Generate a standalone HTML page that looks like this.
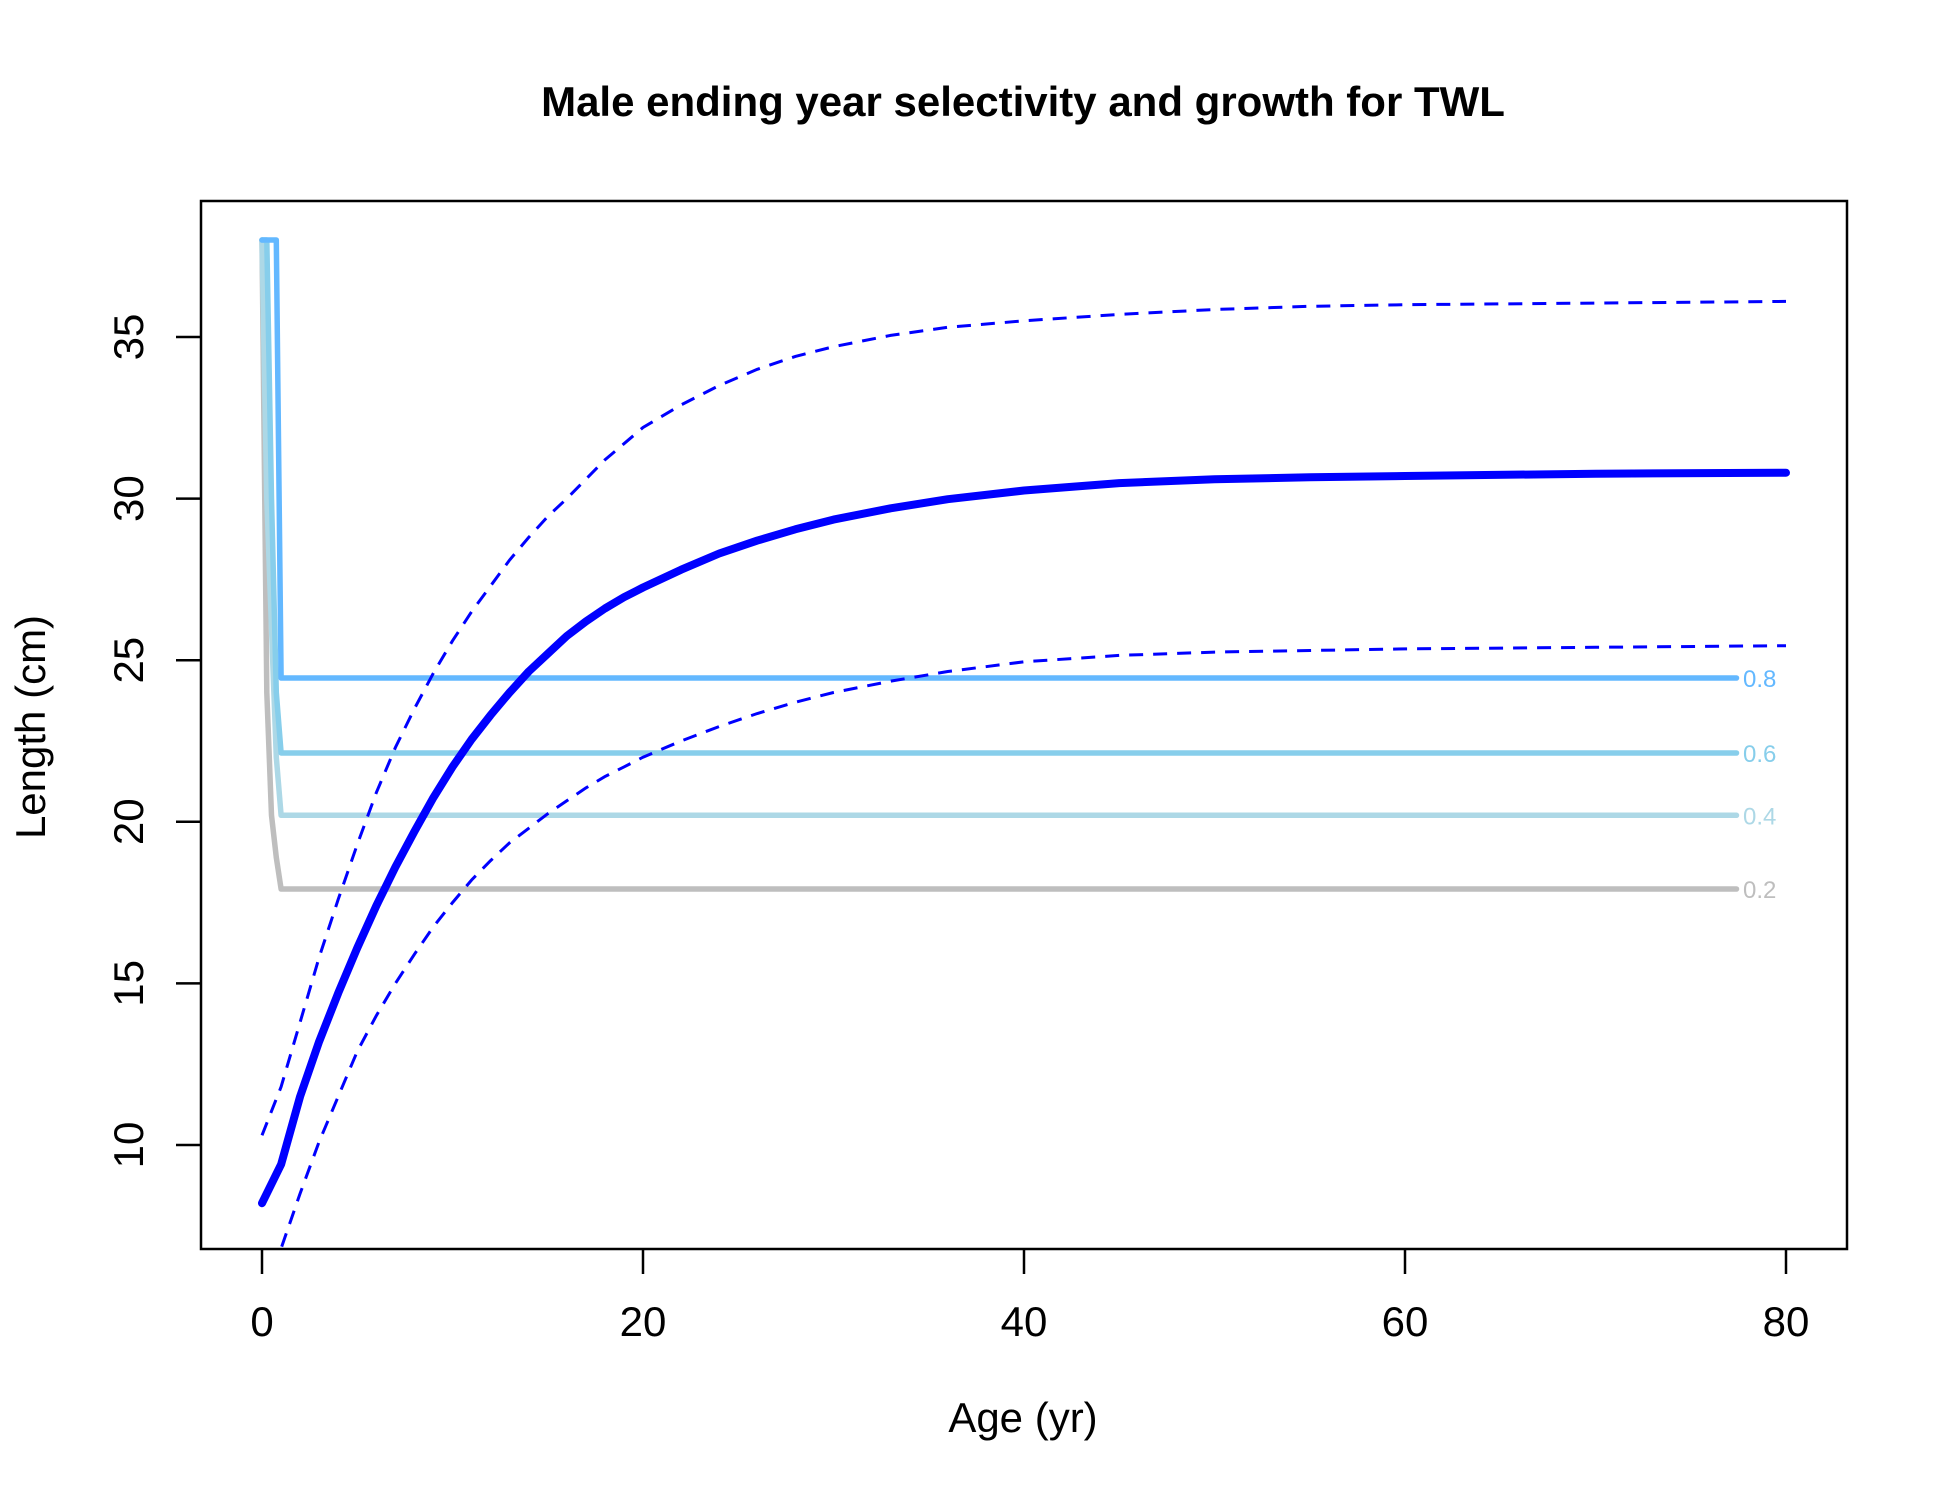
<!DOCTYPE html>
<html><head><meta charset="utf-8"><style>
html,body{margin:0;padding:0;background:#fff;}
svg{display:block;font-family:"Liberation Sans",Arial,sans-serif;}
</style></head><body>
<svg id="chart" width="1950" height="1500" viewBox="0 0 1950 1500">
<defs><clipPath id="plotclip"><rect x="201" y="201" width="1646" height="1048"/></clipPath></defs>
<text x="1023" y="116" text-anchor="middle" font-size="42" font-weight="bold">Male ending year selectivity and growth for TWL</text>
<g id="marks" clip-path="url(#plotclip)"></g>
<rect x="201" y="201" width="1646" height="1048" fill="none" stroke="#000" stroke-width="2.5"/>
<g id="axes"></g>
<text x="1023" y="1432" text-anchor="middle" font-size="42">Age (yr)</text>
<text transform="translate(45,727) rotate(-90)" text-anchor="middle" font-size="42">Length (cm)</text>
</svg>
<script>
const xTicks = [0, 20, 40, 60, 80];
const yTicks = [10, 15, 20, 25, 30, 35];
const growthAges = [0,1,2,3,4,5,6,7,8,9,10,11,12,13,14,15,16,17,18,19,20,22,24,26,28,30,33,36,40,45,50,55,60,70,80];
const meanLen = [8.2,9.4,11.5,13.2,14.7,16.1,17.4,18.6,19.7,20.75,21.7,22.55,23.3,24.0,24.65,25.2,25.75,26.2,26.6,26.95,27.25,27.8,28.3,28.7,29.05,29.35,29.7,29.98,30.25,30.48,30.6,30.66,30.7,30.77,30.8];
const upperLen = [10.3,11.8,13.8,15.8,17.6,19.3,20.9,22.3,23.5,24.6,25.6,26.5,27.3,28.1,28.8,29.45,30.0,30.6,31.2,31.7,32.2,32.9,33.5,34.0,34.4,34.7,35.05,35.3,35.5,35.7,35.85,35.95,36.0,36.05,36.1];
const lowerLen = [5.5,6.8,8.5,10.1,11.5,12.9,14.0,15.0,15.9,16.75,17.5,18.2,18.8,19.35,19.8,20.25,20.65,21.05,21.4,21.7,22.0,22.5,22.95,23.35,23.7,24.0,24.35,24.65,24.95,25.15,25.25,25.3,25.35,25.4,25.45];
const selProbs = [0.2, 0.4, 0.6, 0.8];
const selColors = ["#bebebe", "#add8e6", "#87ceeb", "#63b8ff"];
const selAges = [0, 0.25, 0.5, 0.75, 1, 77.4];
const selLens = [
  [38, 24.0, 20.2, 18.9, 17.92, 17.92],
  [38, 30.0, 26.0, 22.0, 20.2, 20.2],
  [38, 38.0, 30.0, 24.0, 22.13, 22.13],
  [38, 38.0, 38.0, 38.0, 24.45, 24.45]
];
const NS = "http://www.w3.org/2000/svg";
const sx = a => 262 + a * (1786 - 262) / 80;
const sy = v => 1145 - (v - 10) * 32.32;
const marks = document.getElementById("marks");
const axes = document.getElementById("axes");
function mk(tag, attrs, parent){const e=document.createElementNS(NS,tag);for(const k in attrs)e.setAttribute(k,attrs[k]);parent.appendChild(e);return e;}
function pts(xs, ys){return xs.map((a,i)=>sx(a).toFixed(1)+","+sy(ys[i]).toFixed(1)).join(" ");}
selProbs.forEach((p,i)=>{
  const l = mk("polyline",{points:pts(selAges, selLens[i]),fill:"none",stroke:selColors[i],"stroke-width":5.5,"stroke-linejoin":"round","stroke-linecap":"round"},marks);
  
  
  const t = mk("text",{x:1743,y:sy(selLens[i][5])+9,"font-size":24,fill:selColors[i]},document.getElementById("chart"));
  t.textContent = p.toFixed(1);
  
  
});
const up = mk("polyline",{points:pts(growthAges, upperLen),fill:"none",stroke:"#0000ff","stroke-width":3,"stroke-dasharray":"14 10"},marks);


const lo = mk("polyline",{points:pts(growthAges, lowerLen),fill:"none",stroke:"#0000ff","stroke-width":3,"stroke-dasharray":"14 10"},marks);


const mean = mk("polyline",{points:pts(growthAges, meanLen),fill:"none",stroke:"#0000ff","stroke-width":8,"stroke-linejoin":"round","stroke-linecap":"round"},marks);


xTicks.forEach(v=>{
  const l = mk("line",{x1:sx(v),x2:sx(v),y1:1249,y2:1274,stroke:"#000","stroke-width":2.5},axes);
  
  
  const t = mk("text",{x:sx(v),y:1336,"text-anchor":"middle","font-size":42},axes);
  t.textContent = v;
  
  
});
yTicks.forEach(v=>{
  const l = mk("line",{x1:176,x2:201,y1:sy(v),y2:sy(v),stroke:"#000","stroke-width":2.5},axes);
  
  
  const t = mk("text",{transform:"translate(143,"+sy(v)+") rotate(-90)","text-anchor":"middle","font-size":42},axes);
  t.textContent = v;
  
  
});
</script>
</body></html>
